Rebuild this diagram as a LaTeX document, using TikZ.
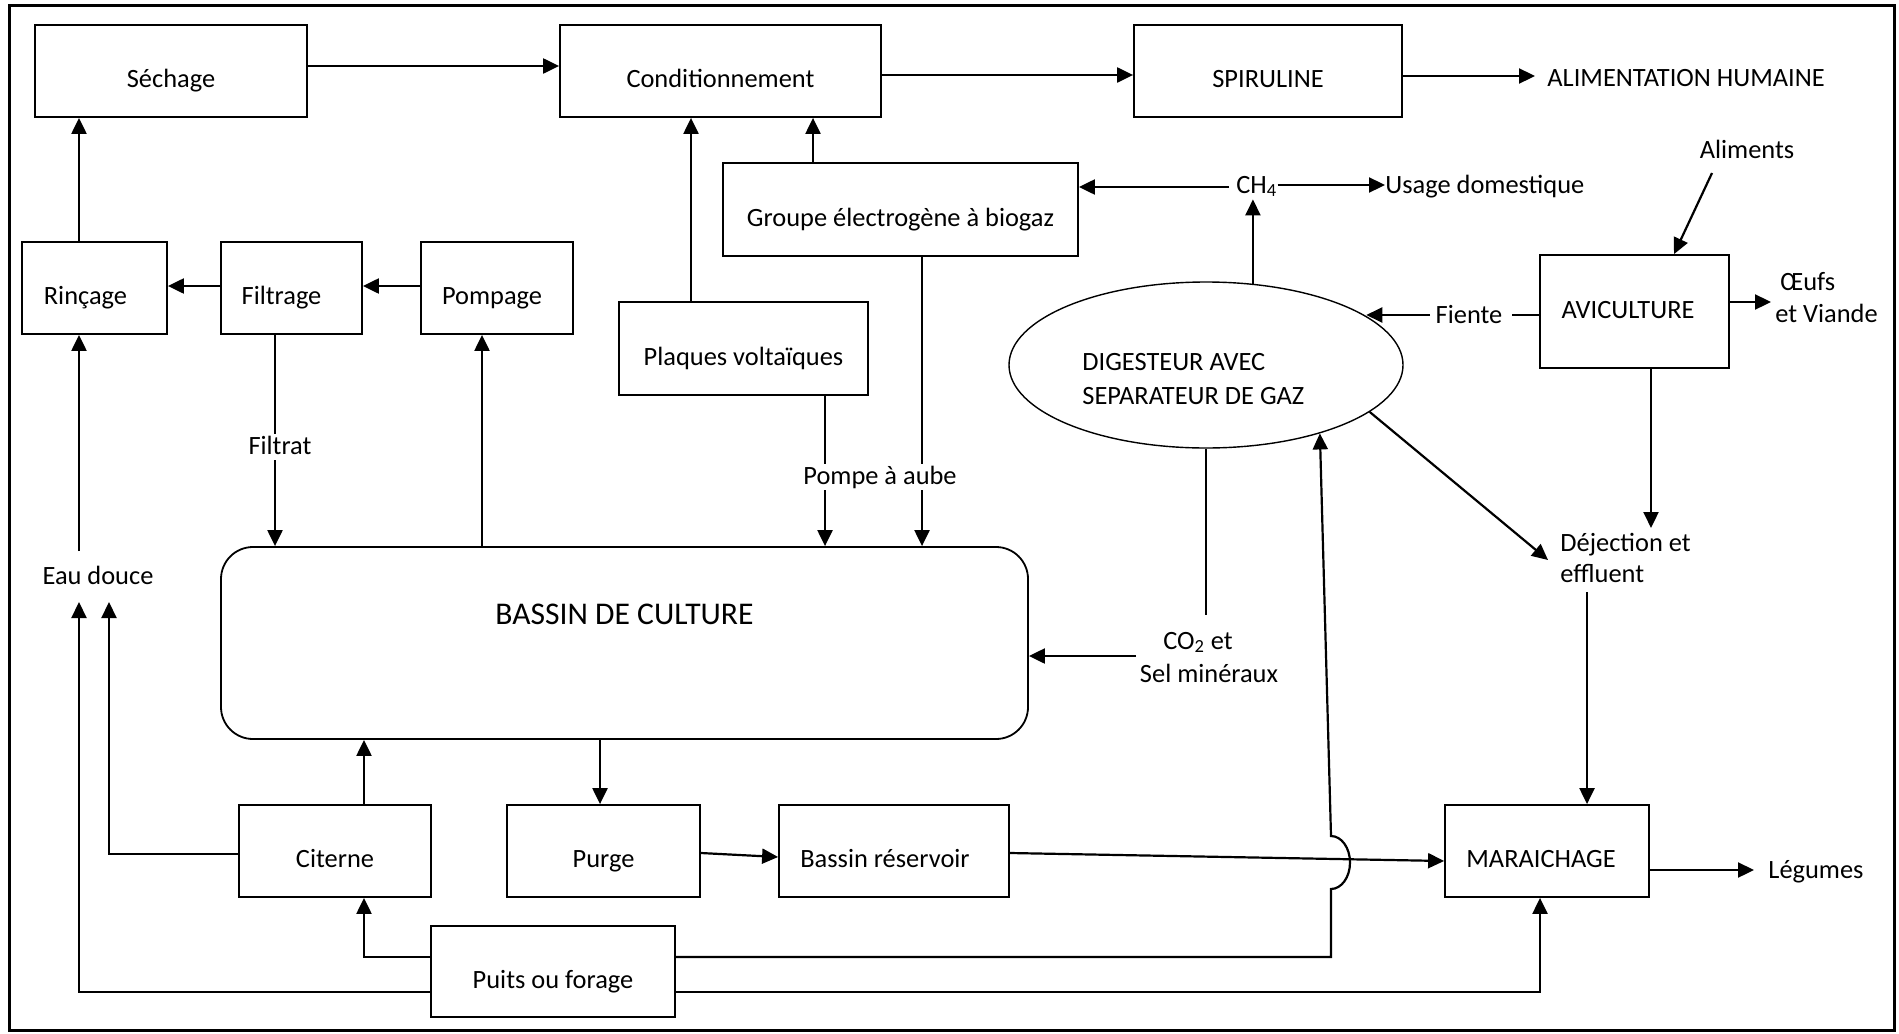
\documentclass[tikz,border=0pt]{standalone}
\usepackage{fontspec}
\setmainfont{Carlito}
\usetikzlibrary{arrows.meta,shapes.geometric}
\begin{document}
\begin{tikzpicture}[x=0.5pt,y=-0.5pt,
  font=\fontsize{13.2}{16.5}\selectfont,
  box/.style={draw,line width=0.9pt,inner sep=0pt,text height=16.5pt,text depth=0pt},
  arr/.style={line width=1.1pt,-{Triangle[length=8pt,width=7.5pt]}},
  ln/.style={line width=1.1pt},
  thinln/.style={line width=0.7pt},
  lab/.style={inner sep=0pt,text height=10pt,text depth=3pt},
]
\useasboundingbox (0,0) rectangle (1899,1033);
\draw[line width=1.5pt] (9,5) rectangle (1894,1030);

% boxes
\node[box,minimum width=136pt,minimum height=46pt] (sech) at (171,71) {Séchage};
\node[box,minimum width=160.5pt,minimum height=46pt] (cond) at (720.5,71) {Conditionnement};
\node[box,minimum width=134pt,minimum height=46pt] (spir) at (1268,71) {SPIRULINE};
\node[box,minimum width=177.5pt,minimum height=46.5pt] (grp) at (900.5,209.5) {Groupe électrogène à biogaz};
\node[box,minimum width=72.5pt,minimum height=46pt] (rinc) at (94.5,288) {\hspace*{-9pt}Rinçage};
\node[box,minimum width=70.5pt,minimum height=46pt] (filt) at (291.5,288) {\hspace*{-10pt}Filtrage};
\node[box,minimum width=76pt,minimum height=46pt] (pomp) at (497,288) {\hspace*{-5pt}Pompage};
\node[box,minimum width=124.5pt,minimum height=46.5pt] (plaq) at (743.5,348.5) {Plaques voltaïques};
\node[box,minimum width=94.5pt,minimum height=56.5pt,text height=6.5pt] (avi) at (1634.5,311.5) {\hspace*{-6.5pt}AVICULTURE};
\node[box,rounded corners=16pt,minimum width=403.5pt,minimum height=96pt,text height=0pt,text depth=19pt,font=\fontsize{15.8}{19}\selectfont] (bassin) at (624.5,643) {BASSIN DE CULTURE};
\node[box,minimum width=96pt,minimum height=46pt] (cit) at (335,851) {Citerne};
\node[box,minimum width=96.5pt,minimum height=46pt] (purge) at (603.5,851) {Purge};
\node[box,minimum width=115pt,minimum height=46pt] (bres) at (894,851) {\hspace*{-9pt}Bassin réservoir};
\node[box,minimum width=102pt,minimum height=46pt] (mar) at (1547,851) {\hspace*{-6pt}MARAICHAGE};
\node[box,minimum width=122pt,minimum height=45.5pt] (puits) at (553,971.5) {Puits ou forage};
\node[draw,ellipse,line width=0.7pt,inner sep=0pt,minimum width=197pt,minimum height=83pt] (dig) at (1206,365) {};

% labels
\node[lab,anchor=west] (dig1) at (1082,363) {DIGESTEUR AVEC};
\node[lab,anchor=west] (dig2) at (1082,397) {SEPARATEUR DE GAZ};
\node[lab,anchor=west] (alim) at (1547,79) {ALIMENTATION HUMAINE};
\node[lab,anchor=west] (ch4) at (1236,186) {CH\textsubscript{4}};
\node[lab,anchor=west] (usage) at (1385,186) {Usage domestique};
\node[lab] (aliments) at (1747,151) {Aliments};
\node[lab] (fiente) at (1469,316) {Fiente};
\node[lab,anchor=west] (oeufs) at (1780,283) {Œufs};
\node[lab,anchor=west] (viande) at (1775,315) {et Viande};
\node[lab] (filtrat) at (280,447) {Filtrat};
\node[lab] (pompe) at (880,477) {Pompe à aube};
\node[lab] (co2) at (1198,642) {CO\textsubscript{2} et};
\node[lab] (sel) at (1209,675) {Sel minéraux};
\node[lab,anchor=west] (dej) at (1560,544) {Déjection et};
\node[lab,anchor=west] (eff) at (1560,575) {effluent};
\node[lab,anchor=west] (leg) at (1768,871) {Légumes};
\node[lab] (eau) at (98,577) {Eau douce};

% free ends
\coordinate (alimIn) at (1535,76);
\coordinate (ch4L) at (1229,187);
\coordinate (fienteR) at (1512,315);
\coordinate (fienteL) at (1430,315);
\coordinate (aliA) at (1712,173);
\coordinate (oeufIn) at (1771,302);
\coordinate (dejIn) at (1651,528);
\coordinate (dejIn2) at (1548,560);
\coordinate (dejOut) at (1587,592);
\coordinate (legIn) at (1754,870);
\coordinate (co2In) at (1136,656);
\coordinate (eauTop) at (79,551);
\coordinate (eauIn1) at (79,602);
\coordinate (eauIn2) at (109,602);
\coordinate (hopB) at (1331,889);

% connectors top
\draw[arr] (sech.east |- 0,66) -- (cond.west |- 0,66);
\draw[arr] (cond.east |- 0,75) -- (spir.west |- 0,75);
\draw[arr] (spir.east |- 0,76) -- (alimIn);
\draw[arr] (rinc.north -| 79,0) -- (sech.south -| 79,0);
\draw[arr] (filt.west |- 0,286) -- (rinc.east |- 0,286);
\draw[arr] (pomp.west |- 0,286) -- (filt.east |- 0,286);
\draw[thinln] (filt.south -| 275,0) -- (filtrat.north -| 275,0);
\draw[arr] (filtrat.south -| 275,0) -- (bassin.north -| 275,0);
\draw[arr] (bassin.north -| 482,0) -- (pomp.south -| 482,0);
\draw[arr] (plaq.north -| 691,0) -- (cond.south -| 691,0);
\draw[arr] (grp.north -| 813,0) -- (cond.south -| 813,0);
\draw[thinln] (plaq.south -| 825,0) -- (pompe.north -| 825,0);
\draw[arr] (pompe.south -| 825,0) -- (bassin.north -| 825,0);
\draw[thinln] (grp.south -| 922,0) -- (pompe.north -| 922,0);
\draw[arr] (pompe.south -| 922,0) -- (bassin.north -| 922,0);

% biogas
\draw[arr] (ch4L) -- (grp.east |- ch4L);
\draw[arr] (ch4.east |- 0,185) -- (usage.west |- 0,185);
\draw[arr] (dig.60.6) -- (dig.60.6 |- ch4.south);
\draw[ln] (avi.west |- fienteR) -- (fienteR);
\draw[arr] (fienteL) -- (fienteL -| dig.17);
\draw[arr] (aliA) -- (avi.north -| 1674,0);
\draw[arr] (avi.east |- oeufIn) -- (oeufIn);
\draw[arr] (avi.south -| dejIn) -- (dejIn);
\draw[arr] (dig.-16.4) -- (dejIn2);
\draw[arr] (dejOut) -- (mar.north -| dejOut);
\draw[arr] (mar.east |- legIn) -- (legIn);
\draw[thinln] (dig.south) -- (dig.south |- 0,615);
\draw[arr] (co2In) -- (bassin.east |- co2In);

% water
\draw[arr] (eauTop) -- (rinc.south -| eauTop);
\draw[arr] (cit.west |- 0,854) -| (eauIn2);
\draw[arr] (puits.west |- 0,992) -| (eauIn1);
\draw[arr] (puits.west |- 0,957) -| (cit.south -| 364,0);
\draw[arr] (cit.north -| 364,0) -- (bassin.south -| 364,0);
\draw[arr] (bassin.south -| 600,0) -- (purge.north -| 600,0);
\draw[arr] (purge.east |- 0,853) -- (bres.west |- 0,857);
\draw[arr] (bres.east |- 0,853) -- (mar.west |- 0,861);
\draw[arr] (puits.east |- 0,992) -| (mar.south -| 1540,0);
\draw[arr] (puits.east |- 0,957) -| (hopB) arc[start angle=-90,end angle=90,x radius=9.5pt,y radius=13.25pt] -- (dig.-31.3);
\end{tikzpicture}
\end{document}
